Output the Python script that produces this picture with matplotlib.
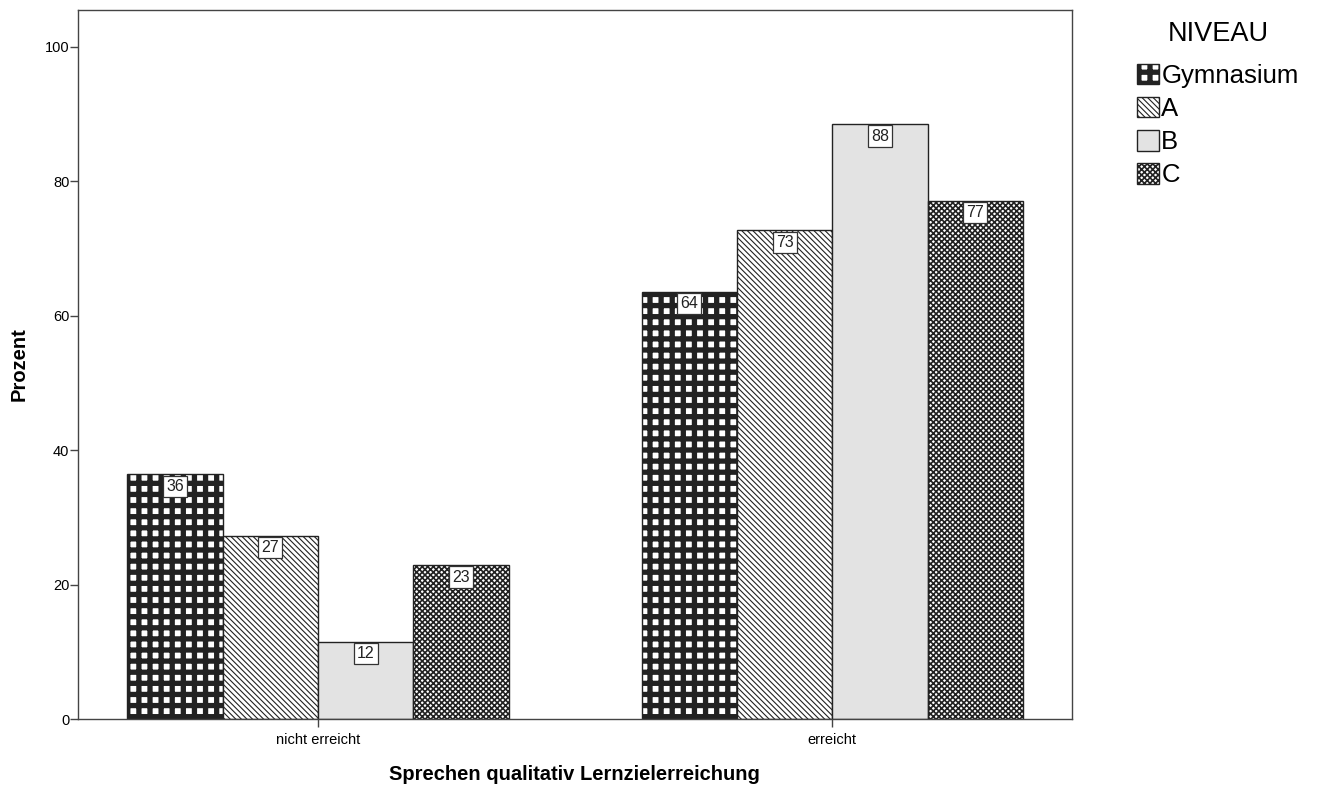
import warnings
import numpy as np
import matplotlib.pyplot as plt
import matplotlib.hatch as mhatch
from matplotlib.path import Path
from matplotlib.patches import Patch, Rectangle
from matplotlib.legend_handler import HandlerPatch

warnings.filterwarnings('ignore')
plt.rcParams['font.family'] = ['Liberation Sans', 'DejaVu Sans']

# data (Prozent)
categories = ['nicht erreicht', 'erreicht']
levels = ['Gymnasium', 'A', 'B', 'C']
values = {
    'Gymnasium': [36.4, 63.6],
    'A': [27.3, 72.7],
    'B': [11.5, 88.5],
    'C': [22.9, 77.1],
}
value_labels = {
    'Gymnasium': ['36', '64'],
    'A': ['27', '73'],
    'B': ['12', '88'],
    'C': ['23', '77'],
}
yticks = [0, 20, 40, 60, 80, 100]


# SPSS style grid: 9 lines per inch each way (stock '+' only gives 6 or 12)
class SquareGrid(mhatch.HatchPatternBase):
    def __init__(self, hatch, density):
        self.num_lines = 9 * hatch.count('#')
        self.num_vertices = self.num_lines * 4

    def set_vertices_and_codes(self, vertices, codes):
        n = self.num_lines
        steps, step = np.linspace(0.0, 1.0, n, False, retstep=True)
        steps += step / 2
        vertices[0:2 * n:2, 0] = 0.0
        vertices[0:2 * n:2, 1] = steps
        vertices[1:2 * n:2, 0] = 1.0
        vertices[1:2 * n:2, 1] = steps
        vertices[2 * n::2, 0] = steps
        vertices[2 * n::2, 1] = 0.0
        vertices[2 * n + 1::2, 0] = steps
        vertices[2 * n + 1::2, 1] = 1.0
        codes[0::2] = Path.MOVETO
        codes[1::2] = Path.LINETO


mhatch._hatch_types.append(SquareGrid)

# styles per level: facecolor, hatch, hatch linewidth
styles = {
    'Gymnasium': dict(fc='white', hatch='#', hlw=3.8),
    'A': dict(fc='white', hatch='\\' * 6, hlw=0.8),
    'B': dict(fc='#e3e3e3', hatch=None, hlw=0.8),
    'C': dict(fc='white', hatch='x' * 6, hlw=1.2),
}

fig = plt.figure(figsize=(13.22, 7.87), dpi=100)
ax = fig.add_axes([0.0588, 0.0864, 0.7521, 0.9009])

x = np.arange(len(categories))
w = 0.1853
edge = '#222222'

for i, lev in enumerate(levels):
    st = styles[lev]
    pos = x + (i - 1.5) * w
    with plt.rc_context({'hatch.linewidth': st['hlw'], 'hatch.color': 'black'}):
        bars = ax.bar(pos, values[lev], width=w, facecolor=st['fc'],
                      edgecolor=edge, linewidth=1.0, hatch=st['hatch'])
    for b in bars:
        if hasattr(b, 'set_hatch_linewidth'):
            b.set_hatch_linewidth(st['hlw'])
    for p, v, lab in zip(pos, values[lev], value_labels[lev]):
        ax.annotate(lab, (p, v), xytext=(0, -3.2), textcoords='offset points',
                    ha='center', va='top', fontsize=11.5, color='#222222',
                    bbox=dict(boxstyle='square,pad=0.2', fc='white',
                              ec='#333333', lw=0.9))

ax.set_xlim(-0.467, 1.466)
ax.set_ylim(0, 105.5)
ax.set_xticks(x)
ax.set_xticklabels(categories, fontsize=10.5)
ax.set_yticks(yticks)
ax.set_yticklabels([str(t) for t in yticks], fontsize=10.5)
ax.tick_params(axis='y', length=5.5, width=1, color='#444444', pad=0.5)
ax.tick_params(axis='x', length=6, width=1, color='#444444', pad=4)
for s in ax.spines.values():
    s.set_color('#444444')
    s.set_linewidth(1.0)

ax.set_xlabel('Sprechen qualitativ Lernzielerreichung', fontsize=14.5,
              fontweight='bold')
ax.xaxis.set_label_coords(0.5, -0.078)
ax.xaxis.label.set_va('center')
ax.set_ylabel('Prozent', fontsize=14.5, fontweight='bold')
ax.yaxis.set_label_coords(-0.0586, 0.5)
ax.yaxis.label.set_va('center')


# legend
def legend_patch(legend, orig_handle, xdescent, ydescent, width, height, fontsize):
    r = Rectangle((-xdescent, -ydescent), width, height)
    lw = styles[orig_handle.get_label()]['hlw']
    if hasattr(r, 'set_hatch_linewidth'):
        r.set_hatch_linewidth(lw)
    return r


fig.text(1218 / 1322, 1 - 34 / 787, 'NIVEAU', ha='center', va='center',
         fontsize=19.5)
handles = []
for lev in levels:
    st = styles[lev]
    handles.append(Patch(facecolor=st['fc'], edgecolor=edge,
                         hatch=st['hatch'], label=lev))
with plt.rc_context({'hatch.linewidth': 3.8}):
    leg = fig.legend(handles=handles, loc='upper left',
                     bbox_to_anchor=(0.860, 0.919), frameon=False,
                     fontsize=18.5, handlelength=0.85, handleheight=0.85,
                     handletextpad=0.1, labelspacing=0.35, borderpad=0,
                     borderaxespad=0,
                     handler_map={Patch: HandlerPatch(patch_func=legend_patch)})
for lev, p in zip(levels, leg.get_patches()):
    if hasattr(p, 'set_hatch_linewidth'):
        p.set_hatch_linewidth(styles[lev]['hlw'])

fig.savefig('out.png', dpi=100)
